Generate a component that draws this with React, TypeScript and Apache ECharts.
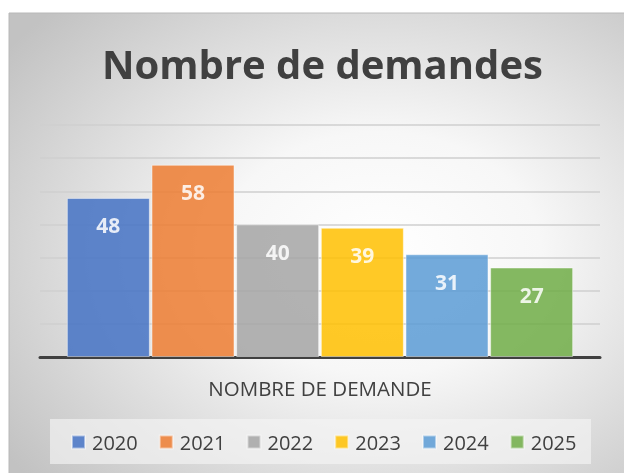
import React, { useEffect, useRef } from "react";
import * as echarts from "echarts";

const years = ["2020", "2021", "2022", "2023", "2024", "2025"];
const values = [48, 58, 40, 39, 31, 27];
const colors = ["#4472C4", "#ED7D31", "#A5A5A5", "#FFC000", "#5B9BD5", "#70AD47"];
const category = ["NOMBRE DE DEMANDE"];
const titleText = "Nombre de demandes";

const FONT = "'Open Sans', 'Noto Sans', sans-serif";

export default function App() {
  const ref = useRef<HTMLDivElement>(null);
  useEffect(() => {
    if (!ref.current) return;
    const chart = echarts.init(ref.current, undefined, { renderer: "svg" });
    chart.setOption({
      animation: false,
      graphic: [
        {
          type: "rect",
          z: -10,
          silent: true,
          shape: { x: 9, y: 13, width: 640, height: 480 },
          style: {
            fill: new echarts.graphic.RadialGradient(0.58, 0.5, 0.72, [
              { offset: 0, color: "#ffffff" },
              { offset: 0.35, color: "#f7f7f7" },
              { offset: 1, color: "#c2c2c2" },
            ]),
            stroke: "#b8b8b8",
            lineWidth: 1,
          },
        },
        {
          type: "rect",
          z: -5,
          silent: true,
          shape: { x: 50, y: 419, width: 541, height: 45 },
          style: { fill: "rgba(245,245,245,0.65)" },
        },
      ],
      title: {
        text: titleText,
        left: 97,
        top: 38,
        textStyle: {
          fontFamily: FONT,
          fontSize: 40,
          fontWeight: "bold",
          color: "#404040",
        },
      },
      legend: {
        left: 66,
        top: 426,
        itemWidth: 13,
        itemHeight: 13,
        itemGap: 21,
        icon: "rect",
        data: years,
        textStyle: {
          fontFamily: FONT,
          fontSize: 20,
          lineHeight: 22,
          color: "#404040",
          padding: [0, 0, 0, 2],
        },
      },
      grid: { left: 40, right: 24, top: 125, bottom: 116, containLabel: false },
      xAxis: {
        type: "category",
        data: category,
        axisLine: { show: true, lineStyle: { color: "#404040", width: 3 } },
        axisTick: { show: false },
        axisLabel: {
          margin: 20,
          fontFamily: FONT,
          fontSize: 20.5,
          color: "#404040",
        },
      },
      yAxis: {
        type: "value",
        min: 0,
        max: 70,
        interval: 10,
        axisLabel: { show: false },
        axisLine: { show: false },
        axisTick: { show: false },
        splitLine: { lineStyle: { color: "#cfcfcf", width: 1.5 } },
      },
      series: years.map((y, i) => ({
        name: y,
        type: "bar",
        data: [values[i]],
        barWidth: 83,
        barGap: "2%",
        itemStyle: {
          color: colors[i],
          opacity: 0.85,
          borderColor: "rgba(255,255,255,0.55)",
          borderWidth: 1,
        },
        label: {
          show: true,
          position: "insideTop",
          distance: 17,
          fontFamily: FONT,
          fontSize: 21,
          fontWeight: "bold",
          color: "#ffffff",
        },
      })),
    });
    return () => chart.dispose();
  }, []);
  return (
    <div
      ref={ref}
      style={{ position: "fixed", left: 0, top: 0, width: 624, height: 473 }}
    />
  );
}
